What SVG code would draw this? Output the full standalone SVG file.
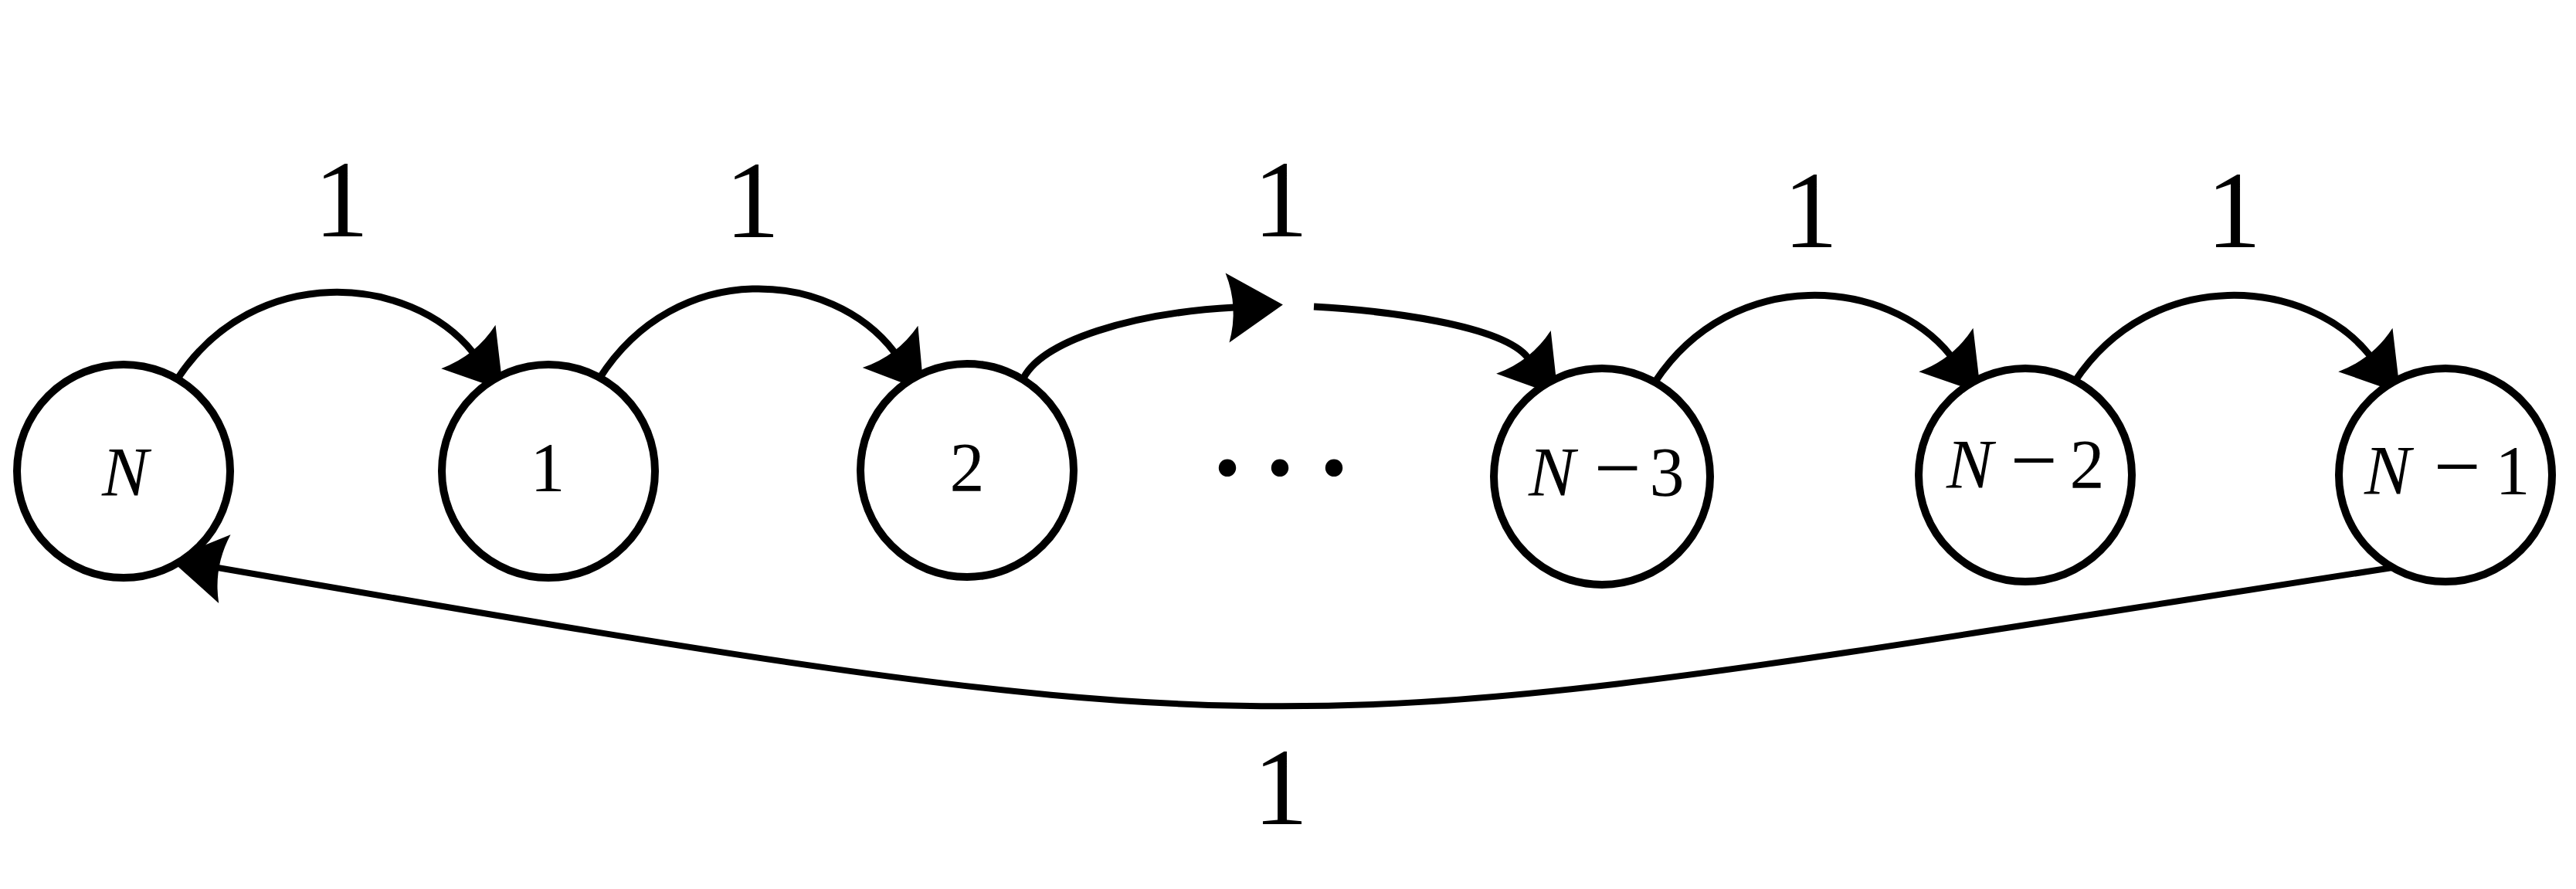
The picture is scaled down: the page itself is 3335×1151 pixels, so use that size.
<svg xmlns="http://www.w3.org/2000/svg" width="3335" height="1151" viewBox="0 0 3335 1151">
<style>
.node{fill:#fff;stroke:#000;stroke-width:10}
.edge{fill:none;stroke:#000;stroke-width:9;marker-end:url(#arr)}
.lbl{font-family:"Liberation Serif",serif;font-size:142px;fill:#000;text-anchor:middle}
.nt{font-family:"Liberation Serif",serif;font-size:90px;fill:#000;text-anchor:middle}
.it{font-style:italic}
.mn{font-size:108px}
.dots{font-family:"Liberation Serif",serif;font-size:190px;fill:#000;text-anchor:middle}
</style>
<defs>
<marker id="arr" markerUnits="userSpaceOnUse" orient="auto" refX="0" refY="0" markerWidth="120" markerHeight="120" viewBox="-20 -40 80 80" overflow="visible">
<path d="M 42 0 L -6 -30 Q 4 0 -6 30 Z" fill="#000"/>
</marker>
</defs>
<rect width="3335" height="1151" fill="#fff"/>
<g id="edges">
<path class="edge" d="M 230 490 c 100,-151 301,-135 382,-34"/>
<path class="edge" d="M 776 490 c 100,-157 301,-141 382,-34"/>
<path class="edge" d="M 1323 494 C 1345 440 1470 405 1598 398"/>
<path class="edge" d="M 1701 397 C 1790 402 1944 420 1978 463"/>
<path class="edge" d="M 2143 494 c 100,-151 301,-135 382,-34"/>
<path class="edge" d="M 2686 494 c 100,-151 301,-135 382,-34"/>
<path class="edge" style="stroke-width:8" d="M 3097 735 C 1635 961 1740 987 282 735"/>
</g>
<g id="edge-labels">
<text class="lbl" x="442" y="306">1</text>
<text class="lbl" x="974" y="307">1</text>
<text class="lbl" x="1658" y="306">1</text>
<text class="lbl" x="2344" y="320">1</text>
<text class="lbl" x="2892" y="320">1</text>
<text class="lbl" x="1658" y="1067">1</text>
</g>
<g id="node-N"><circle class="node" cx="160" cy="610" r="138"/><text class="nt it" x="162" y="642">N</text></g>
<g id="node-1"><circle class="node" cx="710" cy="610" r="138"/><text class="nt" x="709" y="636">1</text></g>
<g id="node-2"><circle class="node" cx="1252" cy="609" r="138"/><text class="nt" x="1252" y="636">2</text></g>
<g id="ellipsis"><text class="dots" y="614"><tspan x="1589">.</tspan><tspan x="1657">.</tspan><tspan x="1727">.</tspan></text></g>
<g id="node-N-3"><circle class="node" cx="2074" cy="617" r="140"/><text class="nt" y="642"><tspan class="it" x="2009">N</tspan><tspan class="mn" x="2094">−</tspan><tspan x="2158">3</tspan></text></g>
<g id="node-N-2"><circle class="node" cx="2622" cy="615" r="138"/><text class="nt" y="632"><tspan class="it" x="2550">N</tspan><tspan class="mn" x="2633">−</tspan><tspan x="2702">2</tspan></text></g>
<g id="node-N-1"><circle class="node" cx="3166" cy="615" r="138"/><text class="nt" y="640"><tspan class="it" x="3091">N</tspan><tspan class="mn" x="3181">−</tspan><tspan x="3253">1</tspan></text></g>
</svg>
